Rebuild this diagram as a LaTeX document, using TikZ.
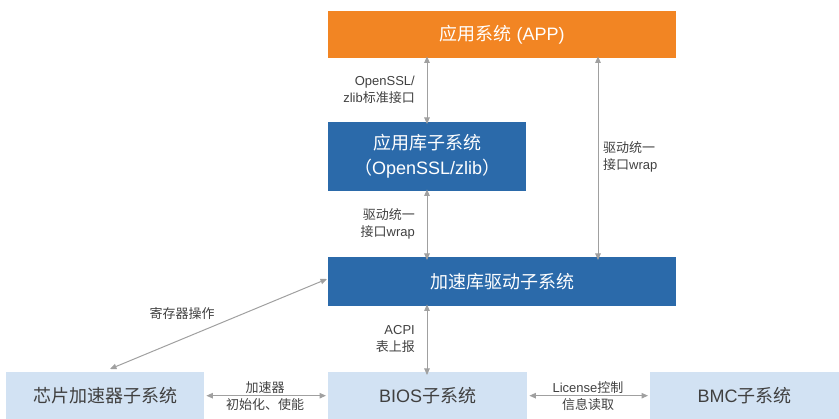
\documentclass[tikz,border=0pt]{standalone}
\usepackage{fontspec}
\setmainfont{Liberation Sans}
\newfontfamily\cjk{Noto Sans CJK SC}
\usetikzlibrary{arrows.meta}
\definecolor{appor}{HTML}{F28523}
\definecolor{dblue}{HTML}{2B6AAA}
\definecolor{lblue}{HTML}{D2E2F3}
\definecolor{arr}{HTML}{A0A0A0}
\definecolor{txt}{HTML}{404040}
\begin{document}
\begin{tikzpicture}[x=1pt,y=-1pt,
  box/.style={inner sep=0pt, minimum width=#1, anchor=north west, align=center},
  orbox/.style={box=348pt, minimum height=47pt, fill=appor, text=white, font=\fontsize{18}{22}\selectfont},
  bluebox/.style={box=#1, fill=dblue, text=white, font=\fontsize{18}{25}\selectfont},
  ltbox/.style={box=#1, minimum height=47pt, fill=lblue, text=txt, font=\fontsize{18}{22}\selectfont},
  conn/.style={draw=arr, line width=1pt, {Triangle[length=6.5pt,width=5.5pt]}-{Triangle[length=6.5pt,width=5.5pt]}},
  lbl/.style={text=txt, font=\fontsize{13}{16.5}\selectfont, inner sep=1pt}
]
\useasboundingbox (0,0) rectangle (839,419);
\node[orbox] (app) at (328,11) {{\cjk 应用系统} (APP)};
\node[bluebox=198pt, minimum height=69pt] (lib) at (328,122) {{\cjk 应用库子系统}\\{\cjk （}OpenSSL/zlib{\cjk ）}};
\node[bluebox=348pt, minimum height=49pt] (drv) at (328,257) {\cjk 加速库驱动子系统};
\node[ltbox=198pt] (chip) at (6,372) {\cjk 芯片加速器子系统};
\node[ltbox=199pt] (bios) at (328,372) {BIOS{\cjk 子系统}};
\node[ltbox=189pt] (bmc) at (650,372) {BMC{\cjk 子系统}};

\coordinate (a1) at (427,58);
\draw[conn] ([yshift=2pt]app.south -| a1) -- ([yshift=-2pt]lib.north -| a1);
\node[lbl, anchor=east, align=right] at (416,90) {OpenSSL/\\zlib{\cjk 标准接口}};

\coordinate (r1) at (598,58);
\draw[conn] ([yshift=2pt]app.south -| r1) -- ([yshift=-3pt]drv.north -| r1);
\node[lbl, anchor=west, align=left] at (602,157) {{\cjk 驱动统一}\\{\cjk 接口}wrap};

\draw[conn] ([yshift=2pt]lib.south -| a1) -- ([yshift=-3pt]drv.north -| a1);
\node[lbl, anchor=east, align=right] at (416,224) {{\cjk 驱动统一}\\{\cjk 接口}wrap};

\draw[conn] ([yshift=2pt]drv.south -| a1) -- ([yshift=-3pt]bios.north -| a1);
\node[lbl, anchor=east, align=right] at (416,339) {ACPI\\{\cjk 表上报}};

\coordinate (d1) at (110,369);
\coordinate (d2) at (327,279);
\draw[conn] (d1) -- (d2);
\node[lbl] at (182,314) {\cjk 寄存器操作};

\draw[conn] ([xshift=2pt]chip.east) -- ([xshift=-2pt]bios.west);
\node[lbl, anchor=center] at (265,388) {\cjk 加速器};
\node[lbl, anchor=center] at (265,405) {\cjk 初始化、使能};

\draw[conn] ([xshift=2pt]bios.east) -- ([xshift=-2pt]bmc.west);
\node[lbl, anchor=center] at (588,388) {License{\cjk 控制}};
\node[lbl, anchor=center] at (588,405) {\cjk 信息读取};
\end{tikzpicture}
\end{document}
